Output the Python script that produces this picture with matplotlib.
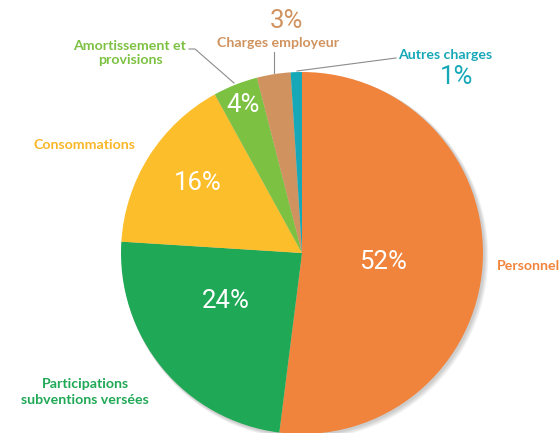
import matplotlib
matplotlib.use("Agg")
import matplotlib.pyplot as plt
from matplotlib.patches import Circle

# ---- data ----
categories = ["Personnel", "Participations\nsubventions versées", "Consommations",
              "Amortissement et\nprovisions", "Charges employeur", "Autres charges"]
values = [52, 24, 16, 4, 3, 1]
pct_labels = ["52%", "24%", "16%", "4%", "3%", "1%"]
colors = ["#F0843C", "#1FA855", "#FDBE2B", "#7DC142", "#D0935F", "#17A8B8"]
text_colors = ["#F0843C", "#1FA855", "#F9B728", "#7DC142", "#D0935F", "#17A8B8"]

W, H = 559, 433
fig = plt.figure(figsize=(W / 100, H / 100), dpi=100)
ax = fig.add_axes([0, 0, 1, 1])

def Y(y):
    return H - y

cx, cy, R = 302, Y(253), 181

# soft shadow
for i, a in enumerate([0.05, 0.05, 0.05, 0.05]):
    ax.add_patch(Circle((cx + 1.5 + i * 0.6, cy - 1.5 - i * 0.6), R + 0.5 + i * 0.5,
                        color="black", alpha=a, lw=0, zorder=0))

ax.pie(values, colors=colors, startangle=90, counterclock=False,
       center=(cx, cy), radius=R, wedgeprops=dict(linewidth=0, zorder=1))

ax.set_xlim(0, W)
ax.set_ylim(0, H)
ax.set_aspect("equal")
ax.axis("off")

pct_font = dict(family="Roboto", color="white", fontsize=18.5,
                ha="center", va="center", zorder=5)
ax.text(383, Y(262), pct_labels[0], **pct_font)
ax.text(226, Y(301), pct_labels[1], **pct_font)
ax.text(198, Y(183), pct_labels[2], **pct_font)
ax.text(243, Y(105), pct_labels[3], **pct_font)

lab_font = dict(family="Lato", fontweight="bold", fontsize=10.2, ha="center", va="center",
                linespacing=1.3)
ax.text(528, Y(266), categories[0], color=text_colors[0], **lab_font)
ax.text(85, Y(392), categories[1], color=text_colors[1], **lab_font)
ax.text(84, Y(145), categories[2], color=text_colors[2], **lab_font)
ax.text(130, Y(53), categories[3], color=text_colors[3], **lab_font)
ax.text(278, Y(43), categories[4], color=text_colors[4], **lab_font)
ax.text(445, Y(55), categories[5], color=text_colors[5], **lab_font)

ax.text(286, Y(21), pct_labels[4], family="Roboto", fontsize=18.5,
        color=text_colors[4], ha="center", va="center")
ax.text(456, Y(77), pct_labels[5], family="Roboto", fontsize=18.5,
        color=text_colors[5], ha="center", va="center")

line_kw = dict(color="#8C8C8C", lw=0.8, zorder=3)
ax.plot([189, 195, 234], [Y(49), Y(49), Y(83)], **line_kw)
ax.plot([274, 274], [Y(52), Y(73)], **line_kw)
ax.plot([396, 297], [Y(58), Y(71)], **line_kw)

fig.savefig("out.png", dpi=100)
